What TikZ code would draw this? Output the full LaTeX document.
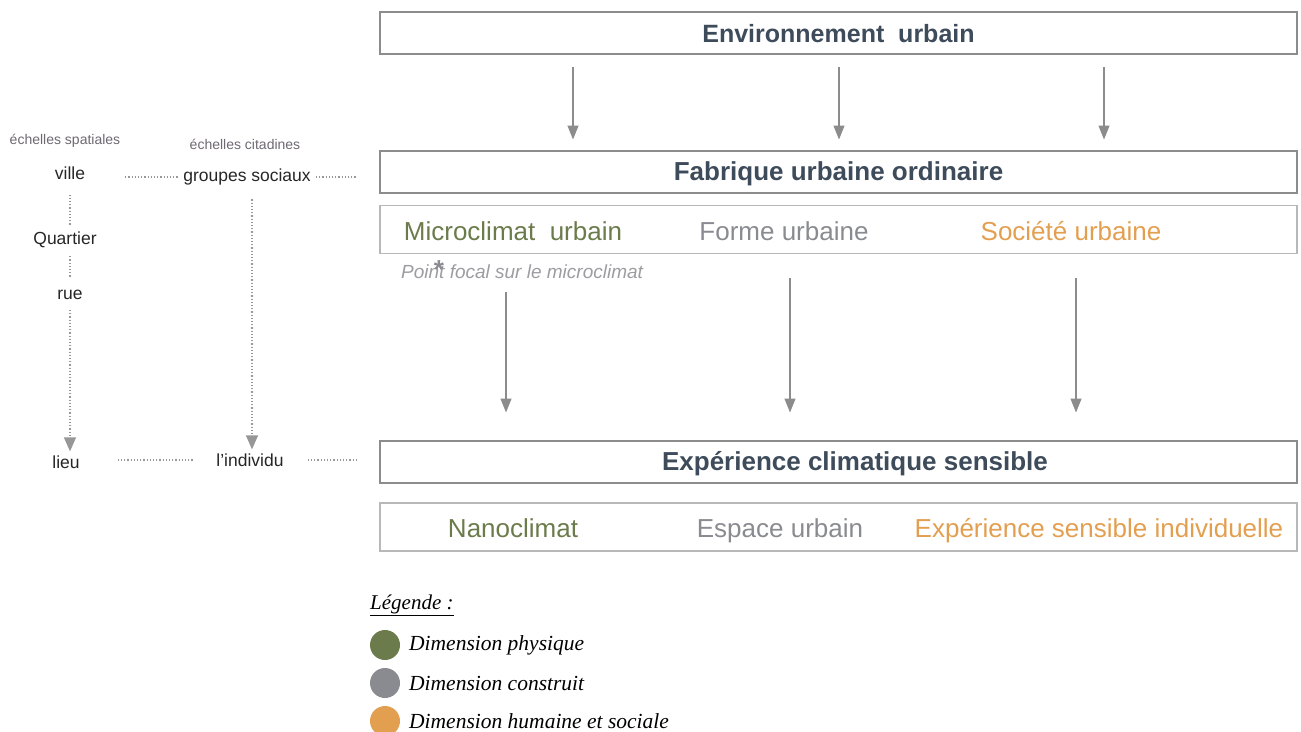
\documentclass[tikz,border=0pt]{standalone}
\usepackage{fontspec}
\setmainfont{Liberation Sans}
\newfontfamily\legendfont{Liberation Serif}
\usetikzlibrary{arrows.meta}

\definecolor{titlecol}{HTML}{3D4B5A}
\definecolor{boxgray}{HTML}{8C8C8C}
\definecolor{subgray}{HTML}{B8B8B8}
\definecolor{physique}{HTML}{6B7B4B}
\definecolor{construit}{HTML}{8A8B90}
\definecolor{humain}{HTML}{E39F50}
\definecolor{echelle}{HTML}{6E6872}

\tikzset{
  mainbox/.style={draw=boxgray, line width=2pt, minimum width=917pt, minimum height=42pt,
    inner sep=0pt, text=titlecol, font=\fontsize{26}{30}\selectfont\bfseries,
    text height=18.6pt, text depth=0pt},
  subbox/.style={draw=subgray, line width=1.2pt, minimum width=917pt, minimum height=48pt, inner sep=0pt},
  item/.style={font=\fontsize{26}{30}\selectfont, inner sep=0pt, anchor=base},
  scalelabel/.style={font=\fontsize{17.5}{20}\selectfont, text=black!85, inner sep=0pt},
  scalehead/.style={font=\fontsize{14}{16}\selectfont, text=echelle, inner sep=0pt},
  legendtext/.style={font=\legendfont\itshape\fontsize{21.5}{24}\selectfont, inner sep=0pt, anchor=west},
  flow/.style={draw=boxgray, line width=1.2pt, -{Triangle[width=11pt,length=14pt]}},
  dots/.style={draw=boxgray!90, line width=1.3pt, dash pattern=on 1.2pt off 2pt},
  dotarrow/.style={dots, -{Triangle[width=12pt,length=14pt]}},
}

\begin{document}
\begin{tikzpicture}[x=1pt, y=-1pt]
  \useasboundingbox (0,0) rectangle (1301,731);

  % main boxes
  \node[mainbox] (env) at (838.5,33) {\fontsize{25}{30}\selectfont Environnement\ \ urbain};
  \node[mainbox] (fab) at (838.5,171.5) {Fabrique urbaine ordinaire};
  \node[subbox] (sub1) at (838.5,229.5) {};
  \node[mainbox] (exp) at (838.5,461.5) {};
  \node[text=titlecol, font=\fontsize{26}{30}\selectfont\bfseries, inner sep=0pt,
    text height=18.6pt, text depth=0pt] (exptxt) at (855,461.5) {Expérience climatique sensible};
  \node[subbox] (sub2) at (838.5,527) {};

  % dimensions
  \node[item, text=physique]  (micro)   at (513,240) {Microclimat\ \ urbain};
  \node[item, text=construit] (forme)   at (784,240) {Forme urbaine};
  \node[item, text=humain]    (societe) at (1071,240) {Société urbaine};
  \node[item, text=physique]  (nano)    at (513,537) {Nanoclimat};
  \node[item, text=construit] (espace)  at (780,537) {Espace urbain};
  \node[item, text=humain]    (vecu)    at (1099,537) {Expérience sensible individuelle};

  \node[anchor=west, inner sep=0pt, text=construit!85, font=\fontsize{19}{22}\selectfont\itshape] (focal) at (401,272) {Point focal sur le microclimat};
  \node[inner sep=0pt, text=construit, font=\fontsize{26}{30}\selectfont\bfseries] (star) at (439,270) {*};

  % arrows
  \coordinate (a1) at (573,0);
  \coordinate (a2) at (839,0);
  \coordinate (a3) at (1104,0);
  \draw[flow, shorten <=12pt, shorten >=10pt] (env.south -| a1) -- (fab.north -| a1);
  \draw[flow, shorten <=12pt, shorten >=10pt] (env.south -| a2) -- (fab.north -| a2);
  \draw[flow, shorten <=12pt, shorten >=10pt] (env.south -| a3) -- (fab.north -| a3);

  \coordinate (b1) at (506,0);
  \coordinate (b2) at (790,0);
  \coordinate (b3) at (1076,0);
  \draw[flow, shorten <=38pt, shorten >=27pt] (sub1.south -| b1) -- (exp.north -| b1);
  \draw[flow, shorten <=24pt, shorten >=27pt] (sub1.south -| b2) -- (exp.north -| b2);
  \draw[flow, shorten <=24pt, shorten >=27pt] (sub1.south -| b3) -- (exp.north -| b3);

  % scales
  \node[scalehead] (spat) at (65,141) {échelles spatiales};
  \node[scalehead] (cita) at (245,144) {échelles citadines};
  \node[scalelabel] (ville)    at (70,173)  {ville};
  \node[scalelabel] (groupes)  at (247,177) {groupes sociaux};
  \node[scalelabel] (quartier) at (65,240)  {Quartier};
  \node[scalelabel] (rue)      at (70,295)  {rue};
  \node[scalelabel] (lieu)     at (66,462)  {lieu};
  \node[scalelabel] (individu) at (250,460) {l’individu};

  \coordinate (v) at (70,0);
  \coordinate (g) at (252,0);
  \draw[dots, shorten <=40pt, shorten >=5pt] (ville.east |- groupes) -- (groupes.west);
  \draw[dots, shorten <=5pt, shorten >=22pt] (groupes.east) -- (groupes.east -| fab.west);
  \draw[dots, shorten <=15pt, shorten >=7pt] (ville.south -| v) -- (quartier.north -| v);
  \draw[dots, shorten <=8pt, shorten >=12pt] (quartier.south -| v) -- (rue.north -| v);
  \draw[dotarrow, shorten <=10pt, shorten >=4pt] (rue.south -| v) -- (lieu.north -| v);
  \draw[dotarrow, shorten <=14pt, shorten >=4pt] (groupes.south -| g) -- (individu.north -| g);
  \draw[dots, shorten <=38pt, shorten >=22pt] (lieu.east |- individu) -- (individu.west);
  \draw[dots, shorten <=24pt, shorten >=22pt] (individu.east) -- (individu.east -| exp.west);

  % legend
  \node[anchor=west, inner sep=0pt, font=\legendfont\itshape\fontsize{21}{24}\selectfont] (legende) at (370,605) {\underline{Légende :}};
  \fill[physique]  (385,645) circle (15);
  \fill[construit] (385,683) circle (15);
  \fill[humain]    (385,721) circle (15);
  \node[legendtext] (dphys) at (409,645) {Dimension physique};
  \node[legendtext] (dcons) at (409,683) {Dimension construit};
  \node[legendtext] (dhum)  at (409,721) {Dimension humaine et sociale};
\end{tikzpicture}
\end{document}
